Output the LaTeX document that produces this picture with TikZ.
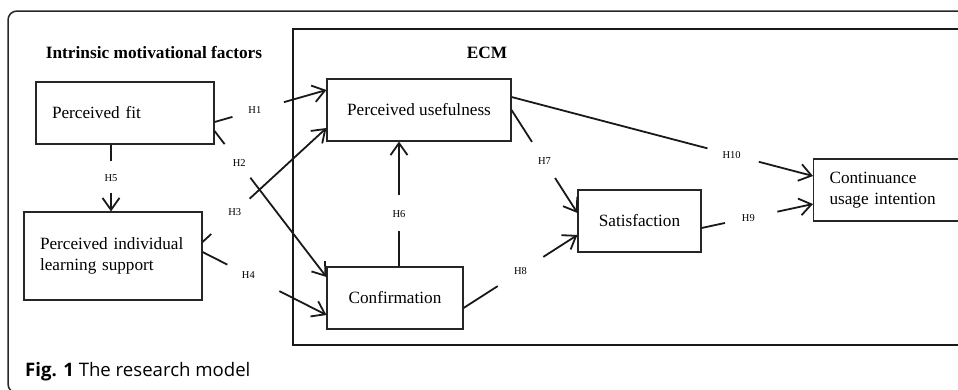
\documentclass[tikz,border=0pt]{standalone}
\usepackage{fontspec}
\setmainfont{Liberation Serif}
\newfontfamily\capfont{Open Sans}
\usetikzlibrary{arrows.meta,calc}
\tikzset{
  box/.style={draw=black!85, line width=1.1pt, rectangle, inner sep=0pt, minimum height=62pt,
    font=\fontsize{17.2}{21}\selectfont, align=center},
  lbox/.style={box, align=left, inner xsep=16pt},
  conn/.style={line width=1.8pt, black!90},
  tip/.style={-{Straight Barb[length=12pt,width=17pt,line width=1.8pt]}},
  hlab/.style={font=\fontsize{10.5}{12}\selectfont, inner sep=0pt},
  ttl/.style={font=\bfseries\fontsize{17.3}{20}\selectfont, inner sep=0pt}
}
\newcommand\hyp[6]{%
  \draw[conn] (#1) -- ($(#1)!#3!(#2)$);
  \draw[conn,tip] ($(#1)!#4!(#2)$) -- (#2);
  \node[hlab] at ($(#1)!#5!(#2)$) {#6};}
\begin{document}
\begin{tikzpicture}[x=1pt,y=-1pt]
\useasboundingbox (0,0) rectangle (958,389);
\clip (0,0) rectangle (958,389);
% outer frame
\draw[line width=1.5pt, black!85, rounded corners=9pt] (8,11) rectangle (1000,393);
% ECM frame
\draw[line width=2pt, black!90] (293,28.5) rectangle (1000,345);
\node[ttl] (imf) at (154,52) {Intrinsic motivational factors};
\node[ttl] (ecm) at (487,53) {ECM};
% nodes
\node[lbox, text width=146pt] (pf) at (125,113) {Perceived fit};
\node[lbox, text width=146pt, minimum height=88pt] (pils) at (113,256) {Perceived individual\\learning support};
\node[box, minimum width=184pt] (pu) at (419,110) {Perceived usefulness};
\node[box, minimum width=136pt] (conf) at (395,298) {Confirmation};
\node[box, minimum width=123pt] (sat) at (639.5,221) {Satisfaction};
\node[lbox, anchor=west, text width=180pt] (cui) at (813,190) {Continuance\\usage intention};
% connector end points
\coordinate (h1s) at ([yshift=-9pt]pf.east);
\coordinate (h2s) at ([yshift=-18pt]pf.east);
\coordinate (h3s) at ([yshift=14pt]pils.east);
\coordinate (h4s) at ([yshift=4pt]pils.east);
\coordinate (h5s) at ([xshift=-14pt]pf.south);
\coordinate (h5e) at ([xshift=-2pt]pils.north);
\coordinate (h1e) at ([yshift=20pt]pu.west);
\coordinate (h3e) at ([yshift=-18pt]pu.west);
\coordinate (h6e) at ([xshift=-20pt]pu.south);
\coordinate (h7s) at (pu.east);
\coordinate (h10s) at ([yshift=13pt]pu.east);
\coordinate (h2e) at ([yshift=21pt]conf.west);
\coordinate (h4e) at ([yshift=-17pt]conf.west);
\coordinate (h6s) at ([xshift=4pt]conf.north);
\coordinate (h8s) at ([yshift=-10pt]conf.east);
\coordinate (h7e) at ([yshift=8pt]sat.west);
\coordinate (h8e) at ([yshift=-14pt]sat.west);
\coordinate (h9s) at ([yshift=-7pt]sat.east);
\coordinate (h9e) at ([yshift=-14pt]cui.west);
\coordinate (h10e) at ([yshift=14pt]cui.west);
% hypotheses
\hyp{h1s}{h1e}{0.16}{0.62}{0.36}{H1}
\hyp{h2s}{h2e}{0.09}{0.32}{0.22}{H2}
\hyp{h3s}{h3e}{0.07}{0.38}{0.26}{H3}
\hyp{h4s}{h4e}{0.20}{0.62}{0.37}{H4}
\hyp{h5s}{h5e}{0.24}{0.72}{0.50}{H5}
\hyp{h6s}{h6e}{0.28}{0.57}{0.42}{H6}
\hyp{h7s}{h7e}{0.31}{0.66}{0.50}{H7}
\hyp{h8s}{h8e}{0.30}{0.70}{0.50}{H8}
\hyp{h9s}{h9e}{0.21}{0.68}{0.42}{H9}
\hyp{h10s}{h10e}{0.65}{0.82}{0.73}{H10}
% caption
\node[anchor=base west, inner sep=0pt, font=\capfont\fontsize{18.6}{21}\selectfont] (cap) at (25,376) {\textbf{Fig. 1} The research model};
\end{tikzpicture}
\end{document}
